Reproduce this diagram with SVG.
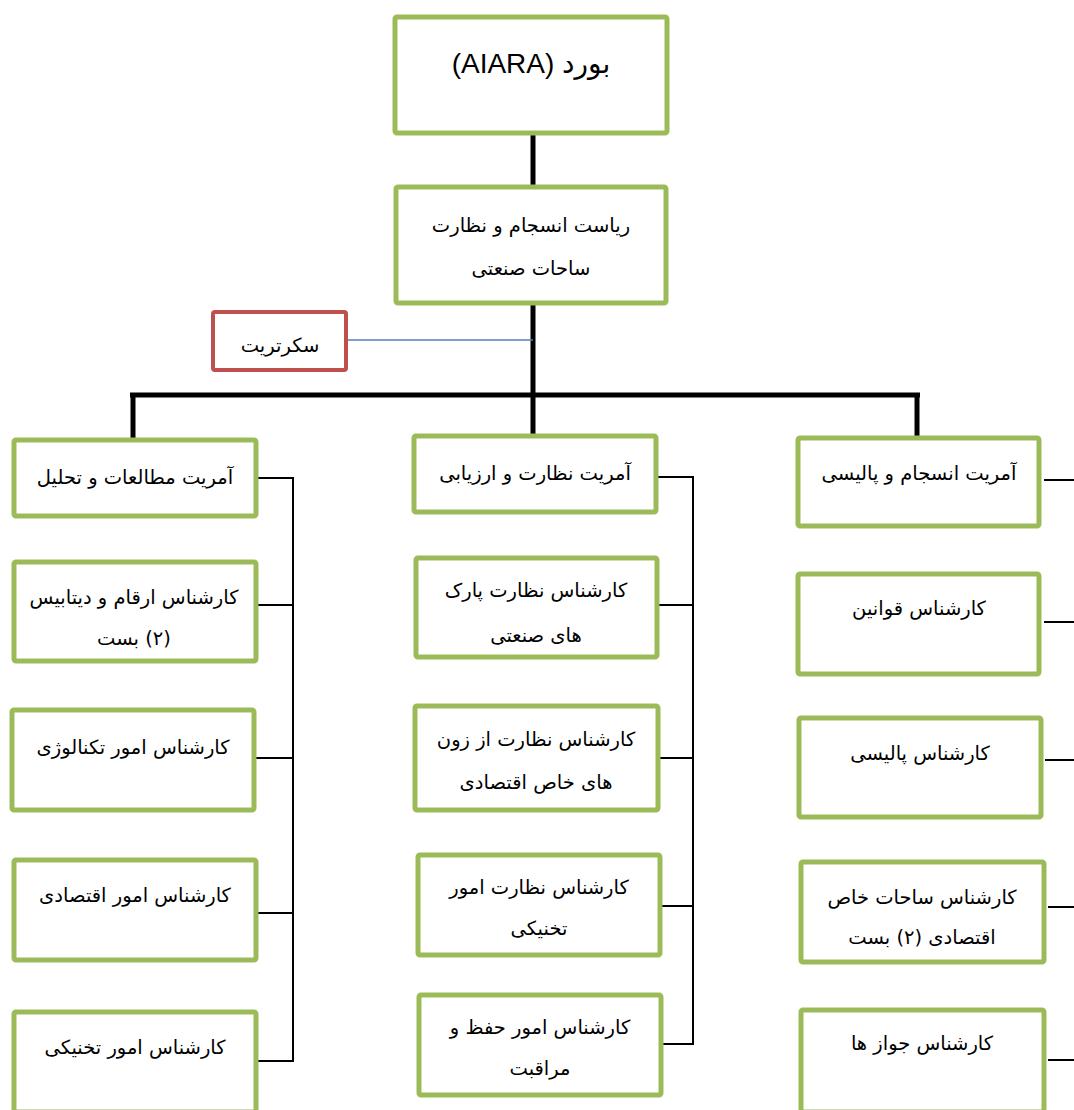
<svg xmlns="http://www.w3.org/2000/svg" width="1074" height="1110" viewBox="0 0 1074 1110">
<style>
.box{fill:#fff;stroke:#9BBB59;stroke-width:5}
.red{fill:#fff;stroke:#C0504D;stroke-width:4}
.t{font-family:"DejaVu Sans","Liberation Sans",sans-serif;font-size:19.5px;fill:#000;text-anchor:middle;dominant-baseline:central;direction:rtl;unicode-bidi:embed}
.big{font-family:"Liberation Sans","DejaVu Sans",sans-serif;font-size:28px}
.thick{stroke:#000;stroke-width:5;fill:none}
.thin{stroke:#000;stroke-width:2;fill:none}
.blue{stroke:#4F81BD;stroke-width:1.5;fill:none}
</style>
<rect width="1074" height="1110" fill="#fff"/>
<g id="connectors">
<line class="thick" x1="533" y1="133" x2="533" y2="188"/>
<line class="thick" x1="533" y1="303" x2="533" y2="436"/>
<line class="thick" x1="130" y1="395" x2="920" y2="395"/>
<line class="thick" x1="133" y1="393" x2="133" y2="440"/>
<line class="thick" x1="917" y1="393" x2="917" y2="438"/>
<line class="blue" x1="346" y1="340" x2="533" y2="340"/>
<polyline class="thin" points="257,478 293,478 293,1061 258,1061"/>
<line class="thin" x1="257" y1="605" x2="293" y2="605"/>
<line class="thin" x1="256" y1="758" x2="293" y2="758"/>
<line class="thin" x1="258" y1="913" x2="293" y2="913"/>
<polyline class="thin" points="658,477 693,477 693,1044 657,1044"/>
<line class="thin" x1="659" y1="605" x2="693" y2="605"/>
<line class="thin" x1="660" y1="758" x2="693" y2="758"/>
<line class="thin" x1="662" y1="906" x2="693" y2="906"/>
<line class="thin" x1="1044" y1="480" x2="1074" y2="480"/>
<line class="thin" x1="1044" y1="622" x2="1074" y2="622"/>
<line class="thin" x1="1045" y1="760" x2="1074" y2="760"/>
<line class="thin" x1="1048" y1="907" x2="1074" y2="907"/>
<line class="thin" x1="1048" y1="1060" x2="1074" y2="1060"/>
</g>
<g id="board"><rect class="box" x="395" y="17" width="272" height="116" rx="2"/><text class="t big" x="531" y="63">بورد (AIARA)</text></g>
<g id="presidency"><rect class="box" x="396" y="187" width="270" height="116" rx="2"/><text class="t" x="531" y="225">ریاست انسجام و نظارت</text><text class="t" x="531" y="268">ساحات صنعتی</text></g>
<g id="secretariat"><rect class="red" x="213" y="312" width="133" height="58" rx="2"/><text class="t" x="280" y="345">سکرتریت</text></g>
<g id="studies"><rect class="box" x="14" y="440" width="242" height="76" rx="2"/><text class="t" x="135" y="477">آمریت مطالعات و تحلیل</text></g>
<g id="monitoring"><rect class="box" x="414" y="436" width="242" height="76" rx="2"/><text class="t" x="535" y="473">آمریت نظارت و ارزیابی</text></g>
<g id="coordination"><rect class="box" x="798" y="438" width="241" height="88" rx="2"/><text class="t" x="919" y="473">آمریت انسجام و پالیسی</text></g>
<g id="database"><rect class="box" x="14" y="562" width="242" height="99" rx="2"/><text class="t" x="134" y="597">کارشناس ارقام و دیتابیس</text><text class="t" x="134" y="638">(۲) بست</text></g>
<g id="technology"><rect class="box" x="12" y="710" width="242" height="100" rx="2"/><text class="t" x="133" y="747">کارشناس امور تکنالوژی</text></g>
<g id="economic"><rect class="box" x="14" y="860" width="242" height="100" rx="2"/><text class="t" x="135" y="895">کارشناس امور اقتصادی</text></g>
<g id="technical"><rect class="box" x="14" y="1012" width="242" height="100" rx="2"/><text class="t" x="135" y="1047">کارشناس امور تخنیکی</text></g>
<g id="parks"><rect class="box" x="416" y="558" width="241" height="99" rx="2"/><text class="t" x="536" y="590">کارشناس نظارت پارک</text><text class="t" x="536" y="635">های صنعتی</text></g>
<g id="zones"><rect class="box" x="415" y="706" width="243" height="104" rx="2"/><text class="t" x="536" y="739">کارشناس نظارت از زون</text><text class="t" x="536" y="782">های خاص اقتصادی</text></g>
<g id="techmon"><rect class="box" x="418" y="855" width="242" height="100" rx="2"/><text class="t" x="539" y="887">کارشناس نظارت امور</text><text class="t" x="539" y="928">تخنیکی</text></g>
<g id="maintenance"><rect class="box" x="419" y="995" width="242" height="100" rx="2"/><text class="t" x="540" y="1027">کارشناس امور حفظ و</text><text class="t" x="540" y="1068">مراقبت</text></g>
<g id="laws"><rect class="box" x="798" y="574" width="241" height="100" rx="2"/><text class="t" x="919" y="608">کارشناس قوانین</text></g>
<g id="policy"><rect class="box" x="799" y="718" width="242" height="99" rx="2"/><text class="t" x="920" y="753">کارشناس پالیسی</text></g>
<g id="sez"><rect class="box" x="801" y="862" width="243" height="100" rx="2"/><text class="t" x="922" y="897">کارشناس ساحات خاص</text><text class="t" x="922" y="937">اقتصادی (۲) بست</text></g>
<g id="licenses"><rect class="box" x="801" y="1010" width="243" height="102" rx="2"/><text class="t" x="922" y="1043">کارشناس جواز ها</text></g>
</svg>
